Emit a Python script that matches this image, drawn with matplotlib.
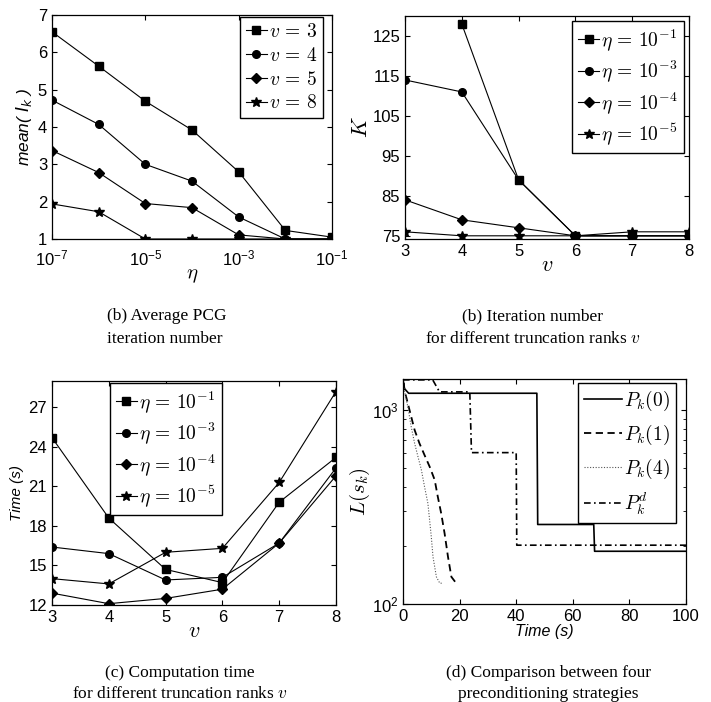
import numpy as np
import matplotlib
matplotlib.use("Agg")
import matplotlib.pyplot as plt

plt.rcParams['font.family'] = 'Liberation Sans'
plt.rcParams['mathtext.fontset'] = 'cm'
plt.rcParams['axes.linewidth'] = 0.9
plt.rcParams['xtick.direction'] = 'in'
plt.rcParams['ytick.direction'] = 'in'
plt.rcParams['xtick.top'] = True
plt.rcParams['ytick.right'] = True

# (a) average PCG iteration number vs eta
eta = [1e-7, 1e-6, 1e-5, 1e-4, 1e-3, 1e-2, 1e-1]
mean_v3 = [6.55, 5.63, 4.69, 3.92, 2.80, 1.23, 1.05]
mean_v4 = [4.72, 4.07, 3.00, 2.55, 1.59, 1.00, 1.00]
mean_v5 = [3.37, 2.78, 1.95, 1.84, 1.11, 1.00, 1.00]
mean_v8 = [1.94, 1.73, 1.00, 1.00, 1.00, 1.00, 1.00]

# (b) iteration number K vs truncation rank v
ranks = [3, 4, 5, 6, 7, 8]
K_e1 = [np.nan, 128, 89, 75, 75, 75]
K_e3 = [114, 111, 89, 75, 75, 75]
K_e4 = [84, 79, 77, 75, 75, 75]
K_e5 = [76, 75, 75, 75, 76, 76]

# (c) computation time vs v
T_e1 = [24.7, 18.6, 14.7, 13.7, 19.8, 23.2]
T_e3 = [16.4, 15.9, 13.9, 14.1, 16.7, 22.4]
T_e4 = [12.9, 12.1, 12.5, 13.2, 16.7, 21.8]
T_e5 = [14.0, 13.6, 16.0, 16.3, 21.3, 28.2]

# (d) L(s_k) vs time for four preconditioners
P0_t = [0, 0.5, 2, 47.3, 47.6, 67.4, 67.7, 100]
P0_L = [1430, 1290, 1220, 1220, 257, 257, 187, 187]
P1_t = [0.3, 0.5, 1.7, 2.9, 4.1, 5.8, 7.6, 9.4, 11.2, 12.3, 13.5, 14.7, 15.9, 17.1, 18.8]
P1_L = [1380, 1268, 1083, 924, 789, 674, 586, 511, 436, 357, 293, 231, 175, 138, 128]
P4_t = [0.3, 1.7, 2.9, 4.1, 5.3, 6.5, 7.6, 8.8, 9.4, 10.0, 10.6, 11.8, 13.0, 14.1]
P4_L = [1300, 1040, 820, 674, 574, 491, 403, 330, 271, 222, 175, 138, 128, 128]
Pd_t = [0, 10.5, 12.9, 23.6, 24.2, 40.0, 40.2, 100]
Pd_L = [1430, 1430, 1240, 1240, 603, 603, 201, 201]

mk = dict(color='black', lw=0.8, markersize=5.5)
star = dict(mk, markersize=7.5)
dia = dict(mk, markersize=5)
leg_kw = dict(fontsize=14, handlelength=1.1, handletextpad=0.1, numpoints=1,
              fancybox=False, edgecolor='black', framealpha=1, borderaxespad=0,
              labelspacing=0.3, borderpad=0.3)

fig = plt.figure(figsize=(7.11, 7.02), dpi=100)
W, H = 711.0, 702.0
def box(l, r, t, b):
    return [l / W, 1 - b / H, (r - l) / W, (b - t) / H]

# ---- (a)
ax = fig.add_axes(box(52, 332, 15, 239))
ax.plot(eta, mean_v3, marker='s', label=r'$v\,=\,3$', **mk)
ax.plot(eta, mean_v4, marker='o', label=r'$v\,=\,4$', **mk)
ax.plot(eta, mean_v5, marker='D', label=r'$v\,=\,5$', **dia)
ax.plot(eta, mean_v8, marker='*', label=r'$v\,=\,8$', **star)
ax.set_xscale('log')
ax.set_xlim(1e-7, 1e-1)
ax.set_ylim(1, 7)
ax.set_xticks([1e-7, 1e-5, 1e-3, 1e-1])
ax.xaxis.set_minor_locator(matplotlib.ticker.NullLocator())
ax.set_yticks(range(1, 8))
ax.tick_params(labelsize=12)
ax.tick_params(axis='x', pad=7)
ax.set_xlabel(r'$\eta$', fontsize=15, labelpad=-2)
ax.set_ylabel('mean( $I_k$ )', fontsize=12.5, style='italic', math_fontfamily='dejavusans', labelpad=3)
ax.legend(loc='upper right', bbox_to_anchor=(0.968, 0.991), **leg_kw)

# ---- (b)
ax = fig.add_axes(box(405, 689, 16, 239))
ax.plot(ranks, K_e1, marker='s', label=r'$\eta\,=\,10^{-1}$', **mk)
ax.plot(ranks, K_e3, marker='o', label=r'$\eta\,=\,10^{-3}$', **mk)
ax.plot(ranks, K_e4, marker='D', label=r'$\eta\,=\,10^{-4}$', **dia)
ax.plot(ranks, K_e5, marker='*', label=r'$\eta\,=\,10^{-5}$', **star)
ax.set_xlim(3, 8)
ax.set_ylim(74.2, 130)
ax.set_yticks([75, 85, 95, 105, 115, 125])
ax.tick_params(labelsize=12)
ax.set_xlabel('$v$', fontsize=16, labelpad=-3)
ax.set_ylabel('$K$', fontsize=16, labelpad=0)
ax.legend(loc='upper right', bbox_to_anchor=(0.982, 0.978), **leg_kw)

# ---- (c)
ax = fig.add_axes(box(52, 336, 381, 605))
ax.plot(ranks, T_e1, marker='s', label=r'$\eta\,=\,10^{-1}$', **mk)
ax.plot(ranks, T_e3, marker='o', label=r'$\eta\,=\,10^{-3}$', **mk)
ax.plot(ranks, T_e4, marker='D', label=r'$\eta\,=\,10^{-4}$', **dia)
ax.plot(ranks, T_e5, marker='*', label=r'$\eta\,=\,10^{-5}$', **star)
ax.set_xlim(3, 8)
ax.set_ylim(12, 29)
ax.set_yticks([12, 15, 18, 21, 24, 27])
ax.tick_params(labelsize=12)
ax.set_xlabel('$v$', fontsize=16, labelpad=-3)
ax.set_ylabel('Time (s)', fontsize=11, style='italic', labelpad=3)
ax.legend(loc='upper left', bbox_to_anchor=(0.204, 0.991), **leg_kw)

# ---- (d)
ax = fig.add_axes(box(403, 686, 379, 604))
ax.plot(P0_t, P0_L, color='black', lw=1.2, ls='-', label='$P_k(0)$')
ax.plot(P1_t, P1_L, color='black', lw=1.3, ls=(0, (4, 2.5)), label='$P_k(1)$')
ax.plot(P4_t, P4_L, color='#555555', lw=0.8, ls=(0, (1, 1.5)), label='$P_k(4)$')
ax.plot(Pd_t, Pd_L, color='black', lw=1.2, ls=(0, (4, 2, 1, 2)), label='$P_k^d$')
ax.set_yscale('log')
ax.set_xlim(0, 100)
ax.set_ylim(100, 1445)
ax.set_xticks([0, 20, 40, 60, 80, 100])
ax.tick_params(labelsize=12)
ax.set_xlabel('Time (s)', fontsize=11.5, style='italic', labelpad=0)
ax.set_ylabel('$L(s_k)$', fontsize=15, labelpad=0)
ax.legend(loc='upper right', bbox_to_anchor=(0.965, 0.982), **dict(leg_kw, handlelength=2.0, labelspacing=0.5))

# captions
cap = dict(fontsize=12.5, family='Liberation Serif', va='center')
fig.text(107 / W, 1 - 316 / H, '(b) Average PCG', ha='left', **cap)
fig.text(107 / W, 1 - 339 / H, 'iteration number', ha='left', **cap)
fig.text(533 / W, 1 - 316 / H, '(b) Iteration number', ha='center', **cap)
fig.text(533 / W, 1 - 339 / H, 'for different truncation ranks $v$', ha='center', **cap)
fig.text(180 / W, 1 - 673 / H, '(c) Computation time', ha='center', **cap)
fig.text(180 / W, 1 - 694 / H, 'for different truncation ranks $v$', ha='center', **cap)
fig.text(548 / W, 1 - 673 / H, '(d) Comparison between four', ha='center', **cap)
fig.text(548 / W, 1 - 694 / H, 'preconditioning strategies', ha='center', **cap)

fig.savefig('out.png', dpi=100)
